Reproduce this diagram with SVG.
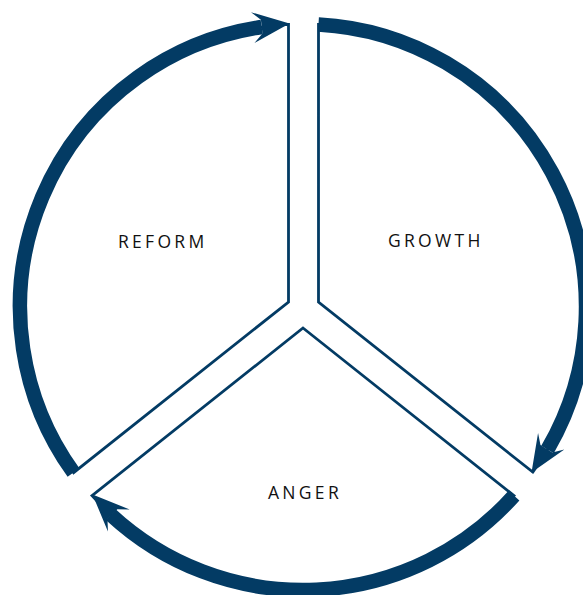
<svg xmlns="http://www.w3.org/2000/svg" width="583" height="595" viewBox="0 0 583 595">
<style>
.sector{fill:#ffffff;stroke:#033b64;stroke-width:2.8;stroke-linejoin:miter}
.arc{fill:none;stroke:#033b64;stroke-width:14.5;stroke-linecap:butt}
.head{fill:#033b64}
.lbl{font-family:"Open Sans","DejaVu Sans",sans-serif;font-size:17.5px;fill:#111111;letter-spacing:3.3px}
</style>
<defs>
<polygon id="ah" points="0,0 -37,-15.5 -28,-7 -28,7 -37,15.5"/>
</defs>
<rect width="583" height="595" fill="#ffffff"/>
<g id="reform">
<path class="sector" d="M288.5 302 L288.5 24.4 A283 283 0 0 0 73.6 472.7 Z"/>
<text class="lbl" x="118" y="248">REFORM</text>
</g>
<g id="growth">
<path class="sector" d="M318.5 302 L318.5 24.4 A283 283 0 0 1 532.8 472.1 Z"/>
<text class="lbl" x="388" y="247">GROWTH</text>
</g>
<g id="anger">
<path class="sector" d="M303 328 L514 495.6 A283 283 0 0 1 92 495.6 Z"/>
<text class="lbl" x="268" y="499">ANGER</text>
</g>
<g id="connectors">
<path class="arc" d="M73.5 472.6 A283 283 0 0 1 261.7 27.0"/>
<use href="#ah" class="head" transform="translate(289.5,23.5) rotate(-6.4)"/>
<path class="arc" d="M318.5 24.4 A283 283 0 0 1 547.5 449.5"/>
<use href="#ah" class="head" transform="translate(531.5,472.5) rotate(122.15)"/>
<path class="arc" d="M514 495.6 A283 283 0 0 1 111.0 514.9"/>
<use href="#ah" class="head" transform="translate(92.5,494.5) rotate(-135.35)"/>
</g>
</svg>
